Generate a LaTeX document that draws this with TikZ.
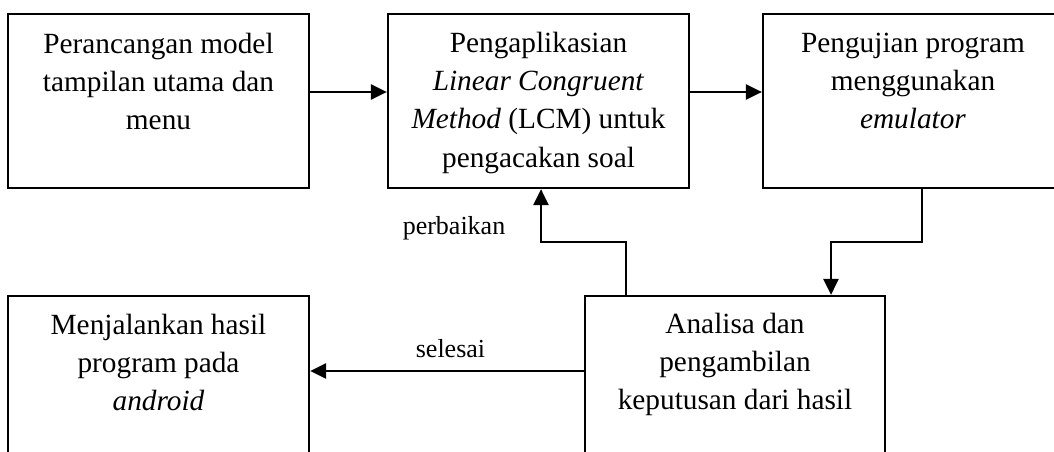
\documentclass[tikz,border=0pt]{standalone}
\usepackage{fontspec}
\setmainfont{Liberation Serif}
\usetikzlibrary{arrows.meta}
\tikzset{
  box/.style={draw, line width=2.2pt, rectangle, inner sep=0pt, minimum width=301pt, minimum height=174pt},
  txt/.style={align=center, inner sep=0pt, anchor=north, font=\fontsize{29.3}{38.3}\selectfont},
  lbl/.style={inner sep=0pt, anchor=base, font=\fontsize{26}{30}\selectfont},
  arr/.style={line width=2.7pt, -{Triangle[length=16pt,width=15pt]}}
}
\begin{document}
\begin{tikzpicture}[x=1pt,y=-1pt]
\useasboundingbox (0,0) rectangle (1054,452);
\clip (0,0) rectangle (1054,452);
% boxes
\node[box] (b1) at (158.5,101) {};
\node[box] (b2) at (538.5,101) {};
\node[box, minimum width=300pt] (b3) at (913,101) {};
\node[box, minimum width=300pt] (b4) at (735,383) {};
\node[box] (b5) at (158.5,383) {};
% texts
\node[txt] (t1) at (158.5,26.2) {\strut Perancangan model\\tampilan utama dan\\menu};
\node[txt] (t2) at (538.5,25.2) {\strut Pengaplikasian\\\textit{Linear Congruent}\\\textit{Method} (LCM) untuk\\pengacakan soal};
\node[txt] (t3) at (913,25.2) {\strut Pengujian program\\menggunakan\\\textit{emulator}};
\node[txt] (t4) at (735,306.2) {\strut Analisa dan\\pengambilan\\keputusan dari hasil};
\node[txt] (t5) at (158.5,307.2) {\strut Menjalankan hasil\\program pada\\\textit{android}};
% labels
\node[lbl] (lp) at (454,234) {perbaikan};
\node[lbl] (ls) at (450.5,357) {selesai};
% connectors
\draw[arr] (b1.east |- 0,92) -- (b2.west |- 0,92);
\draw[arr] (b2.east |- 0,92) -- (b3.west |- 0,92);
\draw[arr] (b3.south -| 922,0) -- (922,242) -- (831,242) -- (b4.north -| 831,0);
\draw[arr] (b4.north -| 626,0) -- (626,242) -- (541,242) -- (b2.south -| 541,0);
\draw[arr] (b4.west |- 0,371) -- (b5.east |- 0,371);
\end{tikzpicture}
\end{document}
